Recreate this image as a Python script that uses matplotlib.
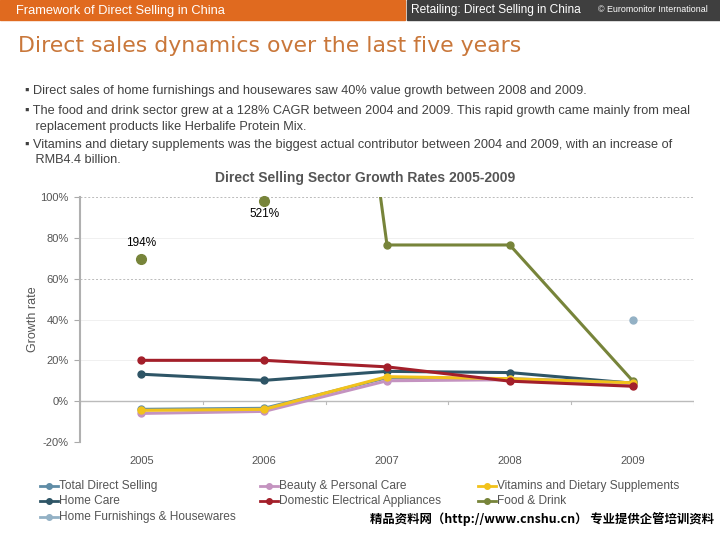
import matplotlib
matplotlib.use("Agg")
import matplotlib.pyplot as plt
import numpy as np
from matplotlib.lines import Line2D
from matplotlib.patches import Rectangle

plt.rcParams['font.family'] = ['Liberation Sans', 'DejaVu Sans']

years = ["2005", "2006", "2007", "2008", "2009"]
total_direct = [-4.0, -3.5, 11.5, 11.0, 9.0]
beauty = [-6.0, -5.0, 10.0, 10.5, 8.0]
vitamins = [-4.5, -4.0, 12.0, 11.0, 9.0]
home_care = [13.2, 10.2, 14.6, 14.0, 8.8]
appliances = [20.0, 20.0, 16.8, 9.8, 7.3]
food_drink = [194.0, 521.0, 76.5, 76.5, 10.0]
home_furnishings = [np.nan, np.nan, np.nan, np.nan, 40.0]
# display positions of the off-scale Food & Drink labels
food_label_pos = [69.5, 98.0]
food_labels = ["194%", "521%"]
yticks = [-20, 0, 20, 40, 60, 80, 100]

fig = plt.figure(figsize=(7.2, 5.4), dpi=100)

# header bars
fig.patches.append(Rectangle((0, 1 - 20/540), 405/720, 20/540, transform=fig.transFigure,
                             color="#e06a1f", zorder=0))
fig.patches.append(Rectangle((407/720, 1 - 20/540), 313/720, 20/540, transform=fig.transFigure,
                             color="#3f3f3f", zorder=0))
fig.text(16/720, 1 - 11/540, "Framework of Direct Selling in China", color="white",
         fontsize=9.3, va="center", ha="left")
fig.text(411/720, 1 - 10/540, "Retailing: Direct Selling in China", color="white",
         fontsize=8.6, va="center", ha="left")
fig.text(598/720, 1 - 10/540, "© Euromonitor International", color="white",
         fontsize=6.4, va="center", ha="left")

fig.text(18/720, 1 - 46/540, "Direct sales dynamics over the last five years",
         color="#c9773a", fontsize=15.8, family=["DejaVu Sans"], va="center", ha="left")

bullets = [
    (91, "▪ Direct sales of home furnishings and housewares saw 40% value growth between 2008 and 2009."),
    (111, "▪ The food and drink sector grew at a 128% CAGR between 2004 and 2009. This rapid growth came mainly from meal"),
    (127, "   replacement products like Herbalife Protein Mix."),
    (145, "▪ Vitamins and dietary supplements was the biggest actual contributor between 2004 and 2009, with an increase of"),
    (160, "   RMB4.4 billion."),
]
for y, t in bullets:
    fig.text(25/720, 1 - y/540, t, color="#404040", fontsize=9.2, va="center", ha="left")

ax = fig.add_axes([80/720, 1 - 442/540, 614/720, 245/540])
x = np.arange(len(years))

series = [
    ("Total Direct Selling", total_direct, "#5f8ca6"),
    ("Beauty & Personal Care", beauty, "#c493c0"),
    ("Vitamins and Dietary Supplements", vitamins, "#f2c21b"),
    ("Home Care", home_care, "#2e5566"),
    ("Domestic Electrical Appliances", appliances, "#a31f2a"),
    ("Food & Drink", food_drink, "#77843a"),
    ("Home Furnishings & Housewares", home_furnishings, "#93b1c5"),
]
draw_order = ["Food & Drink", "Home Care", "Total Direct Selling", "Beauty & Personal Care",
              "Vitamins and Dietary Supplements", "Domestic Electrical Appliances",
              "Home Furnishings & Housewares"]
sdict = {n: (v, c) for n, v, c in series}
for z, name in enumerate(draw_order):
    v, c = sdict[name]
    ax.plot(x, v, color=c, lw=2.2, marker="o", ms=5, zorder=3 + z)

# off-scale Food & Drink labels
ax.plot(x[:2], food_label_pos, "o", color="#77843a", ms=7, zorder=10, clip_on=False)
ax.text(x[0], food_label_pos[0] + 5, food_labels[0], ha="center", va="bottom", fontsize=8.5)
ax.text(x[1], food_label_pos[1] - 3.5, food_labels[1], ha="center", va="top", fontsize=8.5)

ax.set_xlim(-0.5, 4.5)
ax.set_ylim(-20, 100)
ax.set_yticks(yticks)
ax.set_yticklabels([f"{t}%" for t in yticks], color="#555555", fontsize=8)
ax.set_xticks(x)
ax.set_xticklabels(years, color="#555555", fontsize=8)
ax.tick_params(axis="x", length=0, pad=10)
ax.tick_params(axis="y", length=4, color="#aaaaaa", pad=4)
for s in ["top", "right", "bottom"]:
    ax.spines[s].set_visible(False)
ax.spines["left"].set_color("#b0b0b0")
ax.spines["left"].set_linewidth(1.5)
for g in [100, 60]:
    ax.axhline(g, color="#bbbbbb", lw=0.7, ls=(0, (2, 2)), zorder=1)
for g in [80, 40, 20, -20]:
    ax.axhline(g, color="#f0f0f0", lw=0.7, zorder=1)
ax.axhline(0, color="#bbbbbb", lw=1.0, zorder=2)
for b in np.arange(-0.5, 5, 1.0):
    ax.plot([b, b], [0, -1.2], color="#bbbbbb", lw=0.8, zorder=2)

ax.set_ylabel("Growth rate", color="#555555", fontsize=9, labelpad=1)
ax.set_title("Direct Selling Sector Growth Rates 2005-2009", fontsize=10,
             fontweight="bold", color="#555555", pad=11, x=0.464)

# legend
labels = [n for n, _, _ in series]
cols = [(40, [0, 3, 6]), (260, [1, 4]), (478, [2, 5])]
rows = [486, 501, 517]
for xc, idx in cols:
    for r, i in zip(rows, idx):
        yy = 1 - r/540
        fig.add_artist(Line2D([xc/720, (xc + 18)/720], [yy, yy], color=series[i][2], lw=2,
                              transform=fig.transFigure))
        fig.add_artist(Line2D([(xc + 9)/720], [yy], color=series[i][2], marker="o", ms=4,
                              transform=fig.transFigure))
        fig.text((xc + 19)/720, yy, labels[i], fontsize=8.6, color="#555555", va="center", ha="left")

fig.text(714/720, 1 - 519/540, "精品资料网（http://www.cnshu.cn） 专业提供企管培训资料",
         fontsize=8.9, family=["Noto Sans CJK SC", "DejaVu Sans"], color="black",
         va="center", ha="right", fontweight="bold")

fig.savefig("out.png", dpi=100)
